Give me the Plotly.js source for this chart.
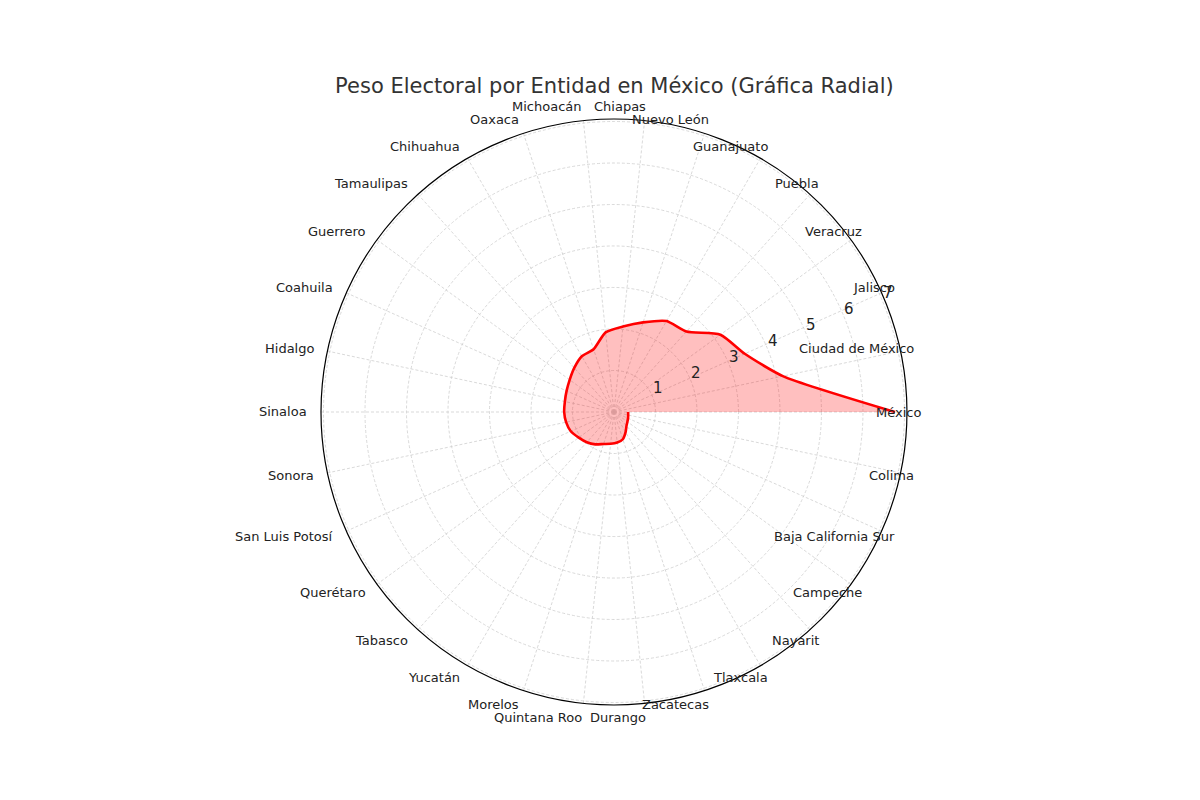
<!DOCTYPE html>
<html>
<head>
<meta charset="utf-8">
<script src="https://cdn.plot.ly/plotly-3.0.1.min.js"></script>
<style>
  html, body { margin: 0; padding: 0; background: #fff; }
  #chart { width: 1200px; height: 800px; }
</style>
</head>
<body>
<div id="chart"></div>
<script>
const estados = [
  'México', 'Ciudad de México', 'Jalisco', 'Veracruz', 'Puebla', 'Guanajuato',
  'Nuevo León', 'Chiapas', 'Michoacán', 'Oaxaca', 'Chihuahua', 'Tamaulipas',
  'Guerrero', 'Coahuila', 'Hidalgo', 'Sinaloa', 'Sonora', 'San Luis Potosí',
  'Querétaro', 'Tabasco', 'Yucatán', 'Morelos', 'Quintana Roo', 'Durango',
  'Zacatecas', 'Tlaxcala', 'Nayarit', 'Campeche', 'Baja California Sur', 'Colima'
];

const peso = [
  6.77, 4.16, 3.45, 3.17, 2.61, 2.53,
  2.27, 2.07, 1.93, 1.59, 1.55, 1.43,
  1.32, 1.25, 1.21, 1.20, 1.18, 1.14,
  1.05, 0.98, 0.90, 0.81, 0.77, 0.74,
  0.69, 0.56, 0.45, 0.40, 0.37, 0.35
];

// the drawn line stops at the full turn, just past Colima
const pesoCierre = 0.34;

const radialTicks = [1, 2, 3, 4, 5, 6, 7];

const W = 1200, H = 800;
const DOMAIN_X = [0.2675, 0.7558];
const DOMAIN_Y = [0.11875, 0.85125];
const R_MAX = 7.06;
const R_LABEL = 7.4;       // where the state names end, in radial units
const RLABEL_ANGLE = 22.5; // matplotlib's default spot for the r labels

const step = 360 / estados.length;
const angulos = estados.map((_, i) => i * step);

const serie = {
  type: 'scatterpolar',
  r: peso.concat([pesoCierre]),
  theta: angulos.concat([360]),
  mode: 'lines',
  fill: 'toself',
  fillcolor: 'rgba(255,0,0,0.25)',
  line: { color: '#ff0000', width: 2.6, shape: 'spline', smoothing: 0.6 },
  hoverinfo: 'skip',
  showlegend: false,
};

// polar -> paper helper for the labels (plotly hides polar points past the
// radial range, and its r tick labels sit tighter than matplotlib's)
const cx = (DOMAIN_X[0] + DOMAIN_X[1]) / 2;
const cy = (DOMAIN_Y[0] + DOMAIN_Y[1]) / 2;
const radioPx = (DOMAIN_X[1] - DOMAIN_X[0]) * W / 2;
const unidadPx = radioPx / R_MAX;

function aPaper(distPx, grados, perpPx = 0) {
  const a = grados * Math.PI / 180;
  return {
    x: cx + (distPx * Math.cos(a) - perpPx * Math.sin(a)) / W,
    y: cy + (distPx * Math.sin(a) + perpPx * Math.cos(a)) / H,
  };
}

function etiquetasEstados() {
  return estados.map((nombre, i) => {
    const p = aPaper(unidadPx * R_LABEL, angulos[i]);
    return {
      text: nombre,
      xref: 'paper', yref: 'paper',
      x: p.x, y: p.y,
      xanchor: 'right', yanchor: 'middle',
      borderpad: 0, borderwidth: 0,
      showarrow: false,
      font: { family: 'DejaVu Sans', size: 13, color: '#222' },
    };
  });
}

function etiquetasRadiales() {
  return radialTicks.map(v => {
    const p = aPaper(unidadPx * v + 8, RLABEL_ANGLE, 5);
    return {
      text: String(v),
      xref: 'paper', yref: 'paper',
      x: p.x, y: p.y,
      xanchor: 'center', yanchor: 'middle',
      showarrow: false,
      font: { family: 'DejaVu Sans', size: 15, color: '#222' },
    };
  });
}

const layout = {
  width: W,
  height: H,
  paper_bgcolor: '#fff',
  margin: { t: 0, r: 0, b: 0, l: 0 },
  font: { family: 'DejaVu Sans', color: '#222' },
  title: {
    text: 'Peso Electoral por Entidad en México (Gráfica Radial)',
    font: { family: 'DejaVu Sans', size: 21, color: '#333' },
    x: 0.512, xanchor: 'center',
    y: 0.8925, yanchor: 'middle',
  },
  annotations: etiquetasEstados().concat(etiquetasRadiales()),
  polar: {
    domain: { x: DOMAIN_X, y: DOMAIN_Y },
    bgcolor: '#fff',
    radialaxis: {
      range: [0, R_MAX],
      tickvals: radialTicks,
      showticklabels: false,
      angle: RLABEL_ANGLE,
      showline: false,
      ticks: '',
      gridcolor: '#cfcfcf',
      gridwidth: 0.8,
      griddash: '3px,2px',
    },
    angularaxis: {
      type: 'linear',
      rotation: 0,
      direction: 'counterclockwise',
      tickmode: 'array',
      tickvals: angulos,
      showticklabels: false,
      ticks: '',
      showline: true,
      linecolor: '#000',
      linewidth: 1.2,
      gridcolor: '#cfcfcf',
      gridwidth: 0.8,
      griddash: '3px,2px',
    },
  },
};

Plotly.newPlot('chart', [serie], layout, { displayModeBar: false, staticPlot: true });
</script>
</body>
</html>
